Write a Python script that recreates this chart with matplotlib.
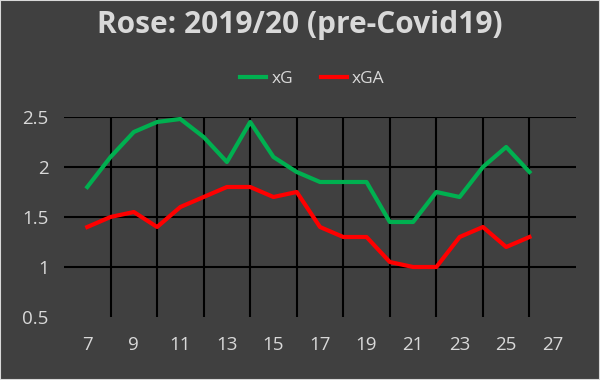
import matplotlib
matplotlib.use("Agg")
import matplotlib.pyplot as plt
from matplotlib.patches import Rectangle

# match weeks and values
rounds = [7, 8, 9, 10, 11, 12, 13, 14, 15, 16, 17, 18, 19, 20, 21, 22, 23, 24, 25, 26]
xg = [1.8, 2.1, 2.35, 2.45, 2.48, 2.3, 2.05, 2.45, 2.1, 1.95, 1.85, 1.85, 1.85,
      1.45, 1.45, 1.75, 1.7, 2.0, 2.2, 1.95]
xga = [1.4, 1.5, 1.55, 1.4, 1.6, 1.7, 1.8, 1.8, 1.7, 1.75, 1.4, 1.3, 1.3,
       1.05, 1.0, 1.0, 1.3, 1.4, 1.2, 1.3]
x_labels = list(range(7, 28, 2))
y_ticks = [0.5, 1, 1.5, 2, 2.5]

bg = "#404040"
txt = "#D9D9D9"
plt.rcParams['font.family'] = ['Open Sans', 'DejaVu Sans']

W, H = 600, 380
fig = plt.figure(figsize=(W / 100, H / 100), dpi=100, facecolor=bg)
# axes placed in pixel terms: left 64, right 576, top 117, bottom 317
ax = fig.add_axes([64 / W, 1 - 317 / H, 512 / W, 200 / H])
ax.set_facecolor(bg)
ax.set_xlim(6, 28)
ax.set_ylim(0.5, 2.5)

for y in y_ticks[1:]:
    ax.axhline(y, color="black", lw=1.5, zorder=1)
for x in range(8, 27, 2):
    ax.axvline(x, color="black", lw=1.5, zorder=1)

ax.plot(rounds, xg, color="#00B050", lw=3, label="xG", zorder=3)
ax.plot(rounds, xga, color="#FF0000", lw=3, label="xGA", zorder=3)

ax.set_xticks(x_labels)
ax.set_yticks(y_ticks)
ax.set_yticklabels(["0.5", "1", "1.5", "2", "2.5"])
ax.tick_params(length=0, colors=txt, labelsize=13.5)
ax.tick_params(axis="y", pad=11)
ax.tick_params(axis="x", pad=14)
for s in ax.spines.values():
    s.set_visible(False)

fig.text(0.5, 1 - 33 / H, "Rose: 2019/20 (pre-Covid19)", ha="center", va="baseline",
         color=txt, fontsize=21.5, fontweight="bold")
leg = fig.legend(loc="center left", bbox_to_anchor=(240 / W, 1 - 79 / H), ncol=2,
                 frameon=False, fontsize=12.5, handlelength=1.5, columnspacing=1.6,
                 handletextpad=0.3, borderpad=0, borderaxespad=0)
for t in leg.get_texts():
    t.set_color(txt)
for h in leg.get_lines():
    h.set_linewidth(3)

fig.patches.append(Rectangle((0, 0), 1, 1, transform=fig.transFigure, fill=False,
                             edgecolor="#D9D9D9", lw=1.5))
fig.savefig("out.png", dpi=100, facecolor=bg)
